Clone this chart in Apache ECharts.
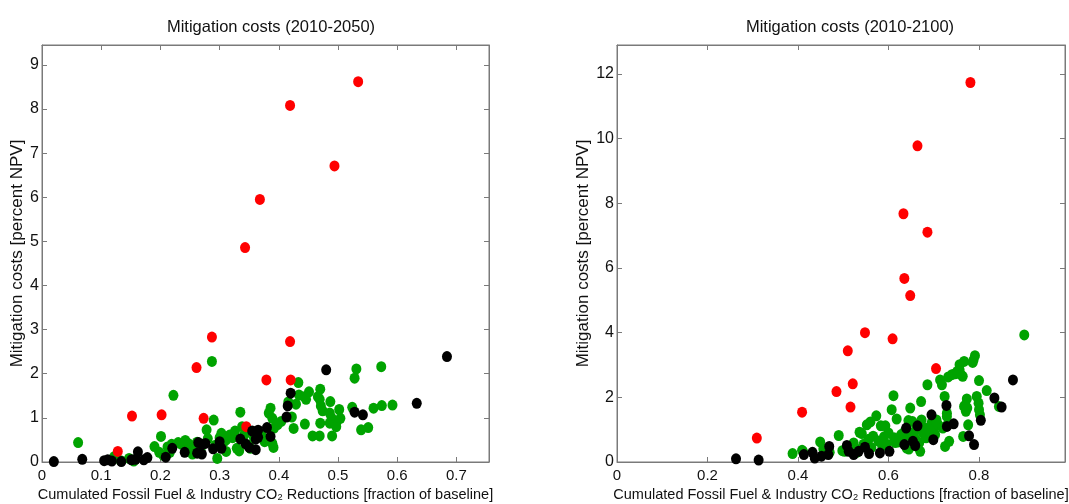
<!DOCTYPE html>
<html>
<head>
<meta charset="utf-8">
<script src="https://cdn.jsdelivr.net/npm/echarts@6/dist/echarts.min.js"></script>
<style>
html,body{margin:0;padding:0;background:#fff;overflow:hidden;}
#chart{width:1069px;height:504px;}
</style>
</head>
<body>
<div id="chart"></div>
<script>
// ---- Data: [CO2 reduction fraction, mitigation cost % NPV] ----
const titles = ['Mitigation costs (2010-2050)', 'Mitigation costs (2010-2100)'];
const xAxisName = 'Cumulated Fossil Fuel & Industry CO\u2082 Reductions [fraction of baseline]';
const yAxisName = 'Mitigation costs [percent NPV]';

const green2050 = [
 [0.061,0.44],[0.122,0.12],[0.133,0.03],[0.147,0.08],[0.155,0.02],[0.190,0.35],[0.201,0.58],[0.198,0.22],
 [0.205,0.15],[0.212,0.34],[0.216,0.22],[0.222,1.51],[0.219,0.40],[0.230,0.44],[0.236,0.40],[0.242,0.49],
 [0.247,0.42],[0.251,0.30],[0.254,0.18],[0.258,0.38],[0.262,0.45],[0.268,0.30],[0.278,0.73],[0.280,0.53],
 [0.287,2.28],[0.290,0.95],[0.293,0.38],[0.296,0.08],[0.300,0.55],[0.303,0.65],[0.307,0.45],[0.311,0.50],
 [0.311,0.24],[0.317,0.61],[0.322,0.55],[0.326,0.70],[0.329,0.31],[0.333,0.25],[0.335,1.13],[0.338,0.80],
 [0.342,0.62],[0.349,0.38],[0.352,0.31],[0.358,0.55],[0.371,0.61],[0.376,0.46],[0.383,1.11],[0.386,1.22],
 [0.389,0.99],[0.392,0.77],[0.389,0.42],[0.391,0.33],[0.398,0.85],[0.404,0.92],[0.416,1.36],[0.422,1.02],
 [0.425,0.76],[0.429,1.31],[0.433,1.80],[0.434,1.52],[0.443,1.48],[0.446,1.42],[0.444,0.86],[0.451,1.59],
 [0.457,0.59],[0.466,1.48],[0.469,1.42],[0.471,1.27],[0.474,1.16],[0.470,1.65],[0.470,0.88],[0.469,0.59],
 [0.487,1.37],[0.486,1.11],[0.489,1.00],[0.486,0.88],[0.490,0.59],[0.498,0.92],[0.497,0.80],[0.502,1.19],
 [0.504,0.99],[0.524,1.24],[0.528,1.90],[0.531,2.11],[0.539,0.73],[0.551,0.78],[0.560,1.22],[0.573,2.16],
 [0.574,1.28],[0.592,1.29]
];
const black2050 = [
 [0.020,0.01],[0.068,0.06],[0.105,0.03],[0.111,0.05],[0.118,0.02],[0.134,0.01],[0.151,0.05],[0.158,0.06],
 [0.162,0.23],[0.172,0.05],[0.178,0.10],[0.209,0.11],[0.220,0.31],[0.241,0.22],[0.264,0.44],[0.270,0.40],
 [0.276,0.42],[0.262,0.20],[0.270,0.18],[0.289,0.30],[0.300,0.46],[0.303,0.31],[0.335,0.52],[0.344,0.41],
 [0.350,0.33],[0.361,0.28],[0.355,0.70],[0.365,0.72],[0.361,0.52],[0.365,0.56],[0.380,0.78],[0.386,0.58],
 [0.413,1.02],[0.415,1.27],[0.420,1.56],[0.480,2.09],[0.528,1.13],[0.542,1.07],[0.633,1.33],[0.684,2.39]
];
const red2050 = [
 [0.534,8.62],[0.419,8.08],[0.494,6.71],[0.368,5.95],[0.343,4.86],[0.287,2.83],[0.419,2.73],[0.261,2.14],
 [0.379,1.86],[0.420,1.86],[0.152,1.04],[0.202,1.07],[0.273,0.99],[0.345,0.80],[0.128,0.24]
];

const green2100 = [
 [0.388,0.26],[0.409,0.36],[0.411,0.33],[0.449,0.62],[0.456,0.40],[0.470,0.30],[0.490,0.82],[0.498,0.35],
 [0.503,0.33],[0.508,0.38],[0.523,0.59],[0.526,0.43],[0.530,0.30],[0.536,0.92],[0.541,0.88],[0.545,0.55],
 [0.552,1.15],[0.556,0.70],[0.560,1.24],[0.562,0.45],[0.566,0.80],[0.573,1.43],[0.578,0.65],[0.583,1.12],
 [0.586,0.50],[0.590,0.78],[0.593,1.12],[0.596,0.55],[0.600,0.90],[0.607,1.62],[0.611,2.05],[0.612,0.75],
 [0.615,0.60],[0.618,1.33],[0.622,0.62],[0.628,0.85],[0.632,0.70],[0.636,0.95],[0.640,0.43],[0.644,1.28],
 [0.645,0.40],[0.648,1.67],[0.650,0.80],[0.653,1.25],[0.658,0.95],[0.660,0.70],[0.663,0.48],[0.668,0.60],
 [0.670,0.33],[0.672,1.87],[0.673,1.30],[0.676,0.90],[0.680,1.05],[0.683,0.75],[0.686,2.39],[0.690,0.95],
 [0.695,1.20],[0.700,1.00],[0.703,0.85],[0.706,1.30],[0.710,1.15],[0.714,2.54],[0.718,2.39],[0.720,1.05],
 [0.724,2.03],[0.725,0.48],[0.729,1.51],[0.729,1.41],[0.730,1.15],[0.734,0.64],[0.732,2.63],[0.740,2.70],
 [0.747,2.73],[0.752,2.80],[0.757,2.85],[0.757,3.01],[0.760,2.70],[0.764,2.65],[0.765,0.79],[0.767,3.11],
 [0.767,1.72],[0.770,1.77],[0.771,1.57],[0.773,1.95],[0.774,1.67],[0.776,1.15],[0.786,3.08],[0.788,3.16],
 [0.791,3.29],[0.795,2.03],[0.799,1.82],[0.800,2.52],[0.800,1.62],[0.802,1.46],[0.817,2.21],[0.844,1.72],
 [0.900,3.93]
];
const black2100 = [
 [0.263,0.10],[0.313,0.06],[0.413,0.23],[0.432,0.30],[0.437,0.12],[0.452,0.18],[0.467,0.23],[0.469,0.48],
 [0.508,0.51],[0.512,0.33],[0.523,0.23],[0.534,0.33],[0.548,0.46],[0.557,0.26],[0.581,0.28],[0.602,0.33],
 [0.635,0.54],[0.639,1.05],[0.654,0.64],[0.659,0.51],[0.664,1.12],[0.695,1.46],[0.699,0.69],[0.728,1.75],
 [0.729,1.10],[0.744,1.18],[0.778,0.81],[0.789,0.54],[0.804,1.29],[0.834,1.98],[0.850,1.70],[0.875,2.54]
];
const red2100 = [
 [0.781,11.74],[0.664,9.78],[0.633,7.68],[0.686,7.11],[0.635,5.68],[0.648,5.15],[0.548,4.00],[0.609,3.81],
 [0.510,3.44],[0.521,2.42],[0.705,2.89],[0.485,2.18],[0.516,1.70],[0.409,1.54],[0.309,0.74]
];

const leftXTicks = {min:0, max:0.755, interval:0.1};
const leftYTicks = {min:0, max:9.45, interval:1};
const rightXTicks = {min:0, max:0.99, interval:0.2};
const rightYTicks = {min:0, max:12.9, interval:2};

// ---- Chart ----
const FONT = "'Liberation Sans', Arial, sans-serif";
const FRAME = '#7a7a7a';
const GREEN = '#00a300', BLACK = '#000000', RED = '#ff0000';

function xFmt(v){ return Math.abs(v) < 1e-9 ? '0' : (+v.toFixed(2)).toString(); }
function yFmt(v){ return (+v.toFixed(2)).toString(); }

function mainX(grid, t){
  return {
    type:'value', gridIndex:grid, position:'bottom', min:t.min, max:t.max, interval:t.interval,
    name:xAxisName, nameLocation:'middle', nameGap:24,
    nameTextStyle:{fontFamily:FONT, fontSize:14.5, color:'#111'},
    axisLine:{show:true, onZero:false, lineStyle:{color:FRAME, width:1}},
    axisTick:{show:true, inside:true, length:5, lineStyle:{color:FRAME}},
    axisLabel:{fontFamily:FONT, fontSize:15, color:'#111', margin:6, formatter:xFmt, showMaxLabel:false},
    splitLine:{show:false}
  };
}
function topX(grid, t){
  return {
    type:'value', gridIndex:grid, position:'top', min:t.min, max:t.max, interval:t.interval,
    axisLine:{show:true, onZero:false, lineStyle:{color:FRAME, width:1}},
    axisTick:{show:true, inside:true, length:5, lineStyle:{color:FRAME}},
    axisLabel:{show:false}, splitLine:{show:false}
  };
}
function mainY(grid, t, gap){
  return {
    type:'value', gridIndex:grid, position:'left', min:t.min, max:t.max, interval:t.interval,
    name:yAxisName, nameLocation:'middle', nameGap:gap, nameRotate:90,
    nameTextStyle:{fontFamily:FONT, fontSize:17, color:'#111'},
    axisLine:{show:true, onZero:false, lineStyle:{color:FRAME, width:1}},
    axisTick:{show:true, inside:true, length:5, lineStyle:{color:FRAME}},
    axisLabel:{fontFamily:FONT, fontSize:16, color:'#111', margin:3, formatter:yFmt, showMaxLabel:false},
    splitLine:{show:false}
  };
}
function rightY(grid, t){
  return {
    type:'value', gridIndex:grid, position:'right', min:t.min, max:t.max, interval:t.interval,
    axisLine:{show:true, onZero:false, lineStyle:{color:FRAME, width:1}},
    axisTick:{show:true, inside:true, length:5, lineStyle:{color:FRAME}},
    axisLabel:{show:false}, splitLine:{show:false}
  };
}
function sc(data, color, xi, yi){
  return {
    type:'scatter', data:data, xAxisIndex:xi, yAxisIndex:yi,
    symbol:'circle', symbolSize:[10,11],
    itemStyle:{color:color, opacity:1},
    emphasis:{disabled:true}, silent:true, animation:false
  };
}

const chart = echarts.init(document.getElementById('chart'), null, {renderer:'canvas'});
chart.setOption({
  backgroundColor:'#ffffff',
  animation:false,
  title:[
    {text:titles[0], left:266, top:14, textAlign:'center', textStyle:{fontFamily:FONT, fontSize:16.5, fontWeight:'normal', color:'#111'}},
    {text:titles[1], left:845, top:14, textAlign:'center', textStyle:{fontFamily:FONT, fontSize:16.5, fontWeight:'normal', color:'#111'}}
  ],
  grid:[
    {left:42, top:45, width:447, height:417, show:true, borderColor:FRAME, borderWidth:1, containLabel:false, outerBoundsMode:'none'},
    {left:617, top:45, width:448, height:417, show:true, borderColor:FRAME, borderWidth:1, containLabel:false, outerBoundsMode:'none'}
  ],
  xAxis:[ mainX(0, leftXTicks), topX(0, leftXTicks), mainX(1, rightXTicks), topX(1, rightXTicks) ],
  yAxis:[ mainY(0, leftYTicks, 15), rightY(0, leftYTicks), mainY(1, rightYTicks, 21), rightY(1, rightYTicks) ],
  series:[
    sc(green2050, GREEN, 0, 0), sc(red2050, RED, 0, 0), sc(black2050, BLACK, 0, 0),
    sc(green2100, GREEN, 2, 2), sc(red2100, RED, 2, 2), sc(black2100, BLACK, 2, 2)
  ]
});
</script>
</body>
</html>
